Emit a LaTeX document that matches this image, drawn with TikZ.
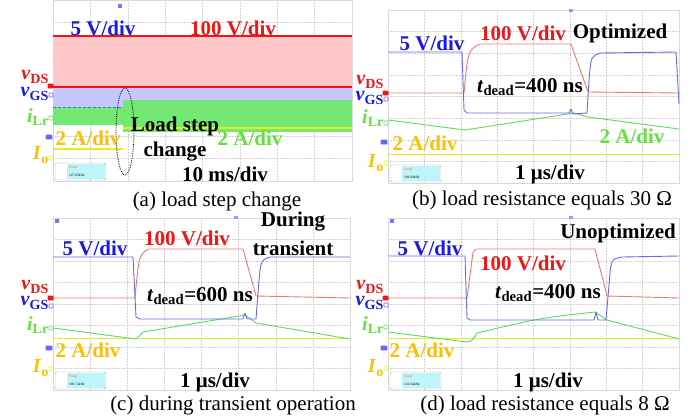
\documentclass[tikz,border=0pt]{standalone}
\usepackage{fontspec}
\setmainfont{Liberation Serif}
\definecolor{chred}{RGB}{240,20,20}
\definecolor{chblue}{RGB}{25,25,230}
\definecolor{chgreen}{RGB}{100,225,60}
\definecolor{chorange}{RGB}{255,190,0}
\definecolor{trred}{RGB}{250,115,115}
\definecolor{trblue}{RGB}{105,105,240}
\definecolor{trgreen}{RGB}{90,220,90}
\definecolor{bandgreen}{RGB}{115,232,115}
\definecolor{tryellow}{RGB}{235,235,30}
\definecolor{freqcyan}{RGB}{190,245,250}
\begin{document}
\begin{tikzpicture}[x=1pt, y=-1pt]
    \tikzstyle{lbl}     = [inner sep=0pt, font=\bfseries\fontsize{21}{22}\selectfont]
    \tikzstyle{chname}  = [inner sep=0pt, anchor=east, font=\bfseries\fontsize{20}{21}\selectfont]
    \tikzstyle{subcap}  = [inner sep=0pt, font=\fontsize{21}{22}\selectfont]
    \tikzstyle{tinytxt} = [inner sep=0pt, anchor=west, font=\fontsize{3.5}{4}\selectfont]
    \tikzstyle{trace}   = [line width=0.9pt, line join=round]
    \tikzstyle{scrgrid} = [draw=gray!35, densely dotted, line width=0.5pt]
    \tikzstyle{chmark}  = [line width=0.6pt, rounded corners=0.5pt]

    \useasboundingbox (0,0) rectangle (691,418);

    % screens, grid and frequency boxes
    \foreach \xa/\ya/\xb/\yb/\fq in {53/0/352/181/147.05kHz, 388/10/679/183/169.60kHz,
                                     53/218/350/390/169.72kHz, 388/218/679/390/141.64kHz} {
        \foreach \i in {1,...,7} {
            \draw[scrgrid] ({\xa+\i*(\xb-\xa)/8}, \ya) -- ({\xa+\i*(\xb-\xa)/8}, \yb);
            \draw[scrgrid] (\xa, {\ya+\i*(\yb-\ya)/8}) -- (\xb, {\ya+\i*(\yb-\ya)/8});
        }
        \draw[gray!30, line width=0.6pt] (\xa, \ya) rectangle (\xb, \yb);
        \fill[freqcyan] (\xa+14, \yb-17) rectangle (\xa+52, \yb-2);
        \draw[gray!70, rounded corners=2pt] (\xa+2, \yb-18) rectangle (\xa+53, \yb-1);
        \node[tinytxt, red!70] at (\xa+16, \yb-13) {Freq2};
        \node[tinytxt] at (\xa+16, \yb-6) {\fq};
    }

    % (a) load step change
    \fill[red!22] (53,36) rectangle (352,87);
    \fill[blue!22] (53,87) rectangle (123,107);
    \fill[blue!22] (123,87) rectangle (352,100);
    \fill[bandgreen] (53,107) rectangle (123,125);
    \fill[bandgreen] (123,100) rectangle (352,132);
    \draw[chred, line width=1.6pt] (53,36) -- (352,36);
    \draw[chred, line width=1.6pt] (53,87) -- (352,87);
    \draw[chblue!70, densely dashed, line width=0.8pt] (53,107) -- (123,107);
    \draw[tryellow, line width=1.6pt] (53,149) -- (123,149);
    \draw[tryellow, line width=1.6pt] (123,128) -- (352,128);
    \draw[densely dotted, line width=0.8pt] (125,131.5) ellipse (9 and 43.5);

    \node[lbl, chblue]   (a-vgsdiv) at (103,28)  {5 V/div};
    \node[lbl, chred]    (a-vdsdiv) at (233,28)  {100 V/div};
    \node[lbl, chorange] (a-iodiv)  at (88,138)  {2 A/div};
    \node[lbl]           (a-step)   at (175,126) {Load step};
    \node[lbl]           (a-change) at (175,152) {change};
    \node[lbl, chgreen]  (a-ilrdiv) at (250,138) {2 A/div};
    \node[lbl]           (a-time)   at (225,174) {10 ms/div};
    \node[subcap]        (a-cap)    at (217,201) {(a) load step change};

    % (b) load resistance equals 30 Ohm
    \draw[trace, tryellow] (388,154) -- (679,154);
    \draw[trace, trgreen] (388,120) -- (465,130) -- (574,113) -- (588,117) -- (679,129);
    \draw[trace, trred] (388,93) -- (464,93) .. controls (468,50) .. (480,44) -- (571,44) -- (588,92) -- (679,93);
    \draw[trace, trblue] (388,52) -- (462,52) -- (464,110) -- (467,113) -- (569,113) -- (571,109) -- (573,114)
        -- (587,113) -- (589,80) .. controls (591,56) .. (601,53) -- (676,52) -- (679,104);

    \node[lbl, chblue]   (b-vgsdiv) at (432,43)  {5 V/div};
    \node[lbl, chred]    (b-vdsdiv) at (523,33)  {100 V/div};
    \node[lbl]           (b-opt)    at (620,33)  {Optimized};
    \node[lbl]           (b-dead)   at (530,87)  {\textit{t}\textsubscript{dead}=400 ns};
    \node[lbl, chgreen]  (b-ilrdiv) at (632,136) {2 A/div};
    \node[lbl, chorange] (b-iodiv)  at (425,143) {2 A/div};
    \node[lbl]           (b-time)   at (550,174) {1 μs/div};
    \node[subcap]        (b-cap)    at (542,200) {(b) load resistance equals 30 Ω};

    % (c) during transient operation
    \draw[trace, tryellow] (53,338) -- (350,338);
    \draw[trace, trgreen] (53,328) -- (136,339) -- (143,332) -- (245,315) -- (256,323) -- (350,339);
    \draw[trace, trred] (53,298) -- (135,298) .. controls (139,255) .. (148,249) -- (243,249) -- (256,296) -- (350,298);
    \draw[trace, trblue] (53,257) -- (133,257) -- (136,317) -- (140,319) -- (243,319) -- (245,313) -- (247,319)
        -- (256,319) -- (259,280) .. controls (261,260) .. (270,257) -- (350,257);

    \node[lbl, chblue]   (c-vgsdiv) at (95,248)  {5 V/div};
    \node[lbl, chred]    (c-vdsdiv) at (187,238) {100 V/div};
    \node[lbl]           (c-during) at (293,222) {During};
    \node[lbl]           (c-trans)  at (293,248) {transient};
    \node[lbl]           (c-dead)   at (200,296) {\textit{t}\textsubscript{dead}=600 ns};
    \node[lbl, chorange] (c-iodiv)  at (88,350)  {2 A/div};
    \node[lbl]           (c-time)   at (215,382) {1 μs/div};
    \node[subcap]        (c-cap)    at (233,405) {(c) during transient operation};

    % (d) load resistance equals 8 Ohm
    \draw[trace, tryellow] (388,338) -- (679,338);
    \draw[trace, trgreen] (388,332) -- (467,342) .. controls (472,341) .. (477,333) .. controls (540,318) .. (595,312)
        -- (607,320) -- (679,339);
    \draw[trace, trred] (388,298) -- (467,298) -- (473,252) -- (476,249) -- (595,249) -- (607,296) -- (679,298);
    \draw[trace, trblue] (388,256) -- (465,256) -- (467,318) -- (470,320) -- (594,320) -- (596,312) -- (598,320)
        -- (606,320) -- (609,285) .. controls (611,259) .. (622,257) -- (679,256);

    \node[lbl, chblue]   (d-vgsdiv) at (430,248) {5 V/div};
    \node[lbl, chred]    (d-vdsdiv) at (523,263) {100 V/div};
    \node[lbl]           (d-unopt)  at (618,233) {Unoptimized};
    \node[lbl]           (d-dead)   at (548,293) {\textit{t}\textsubscript{dead}=400 ns};
    \node[lbl, chorange] (d-iodiv)  at (422,350) {2 A/div};
    \node[lbl]           (d-time)   at (548,382) {1 μs/div};
    \node[subcap]        (d-cap)    at (545,405) {(d) load resistance equals 8 Ω};

    % channel names and markers on the left of each screen
    \foreach \p/\xe/\yds/\ygs/\ylr/\yio/\mds/\mgs/\mlr/\mtr/\mio in
        {a/49/77/94/117/155/86/95/118/137/158, b/384/82/98/118/163/93/99/123/142/163,
         c/49/287/303/325/368/298/306/328/348/369, d/384/287/303/325/368/298/305/327/348/368} {
        \node[chname, chred]    (\p-vds) at (\xe,\yds) {\textit{v}\textsubscript{DS}};
        \node[chname, chblue]   (\p-vgs) at (\xe,\ygs) {\textit{v}\textsubscript{GS}};
        \node[chname, chgreen]  (\p-ilr) at (\xe,\ylr) {\textit{i}\textsubscript{Lr}};
        \node[chname, chorange] (\p-io)  at (\xe,\yio) {\textit{I}\textsubscript{o}};
        \draw[chmark, fill=chred, draw=chred]     (\xe-1,\mds-2) rectangle (\xe+4,\mds+2);
        \draw[chmark, draw=trblue]                (\xe,\mgs-2) rectangle (\xe+4,\mgs+2);
        \draw[chmark, draw=trgreen]               (\xe,\mlr-2) rectangle (\xe+4,\mlr+2);
        \draw[chmark, fill=blue!60, draw=blue!60] (\xe-3,\mtr-2) rectangle (\xe+3,\mtr+2);
        \draw[chmark, draw=tryellow]              (\xe,\mio-2) rectangle (\xe+4,\mio+2);
    }

    % trigger markers on top
    \fill[blue!55] (118,4) rectangle (122,8);
    \fill[blue!40] (569,9) rectangle (573,12);
    \fill[blue!55] (55,219) rectangle (59,223);
    \fill[blue!40] (234,216) rectangle (238,219);
    \fill[blue!55] (390,219) rectangle (394,223);
    \fill[blue!40] (569,216) rectangle (573,219);
\end{tikzpicture}
\end{document}
